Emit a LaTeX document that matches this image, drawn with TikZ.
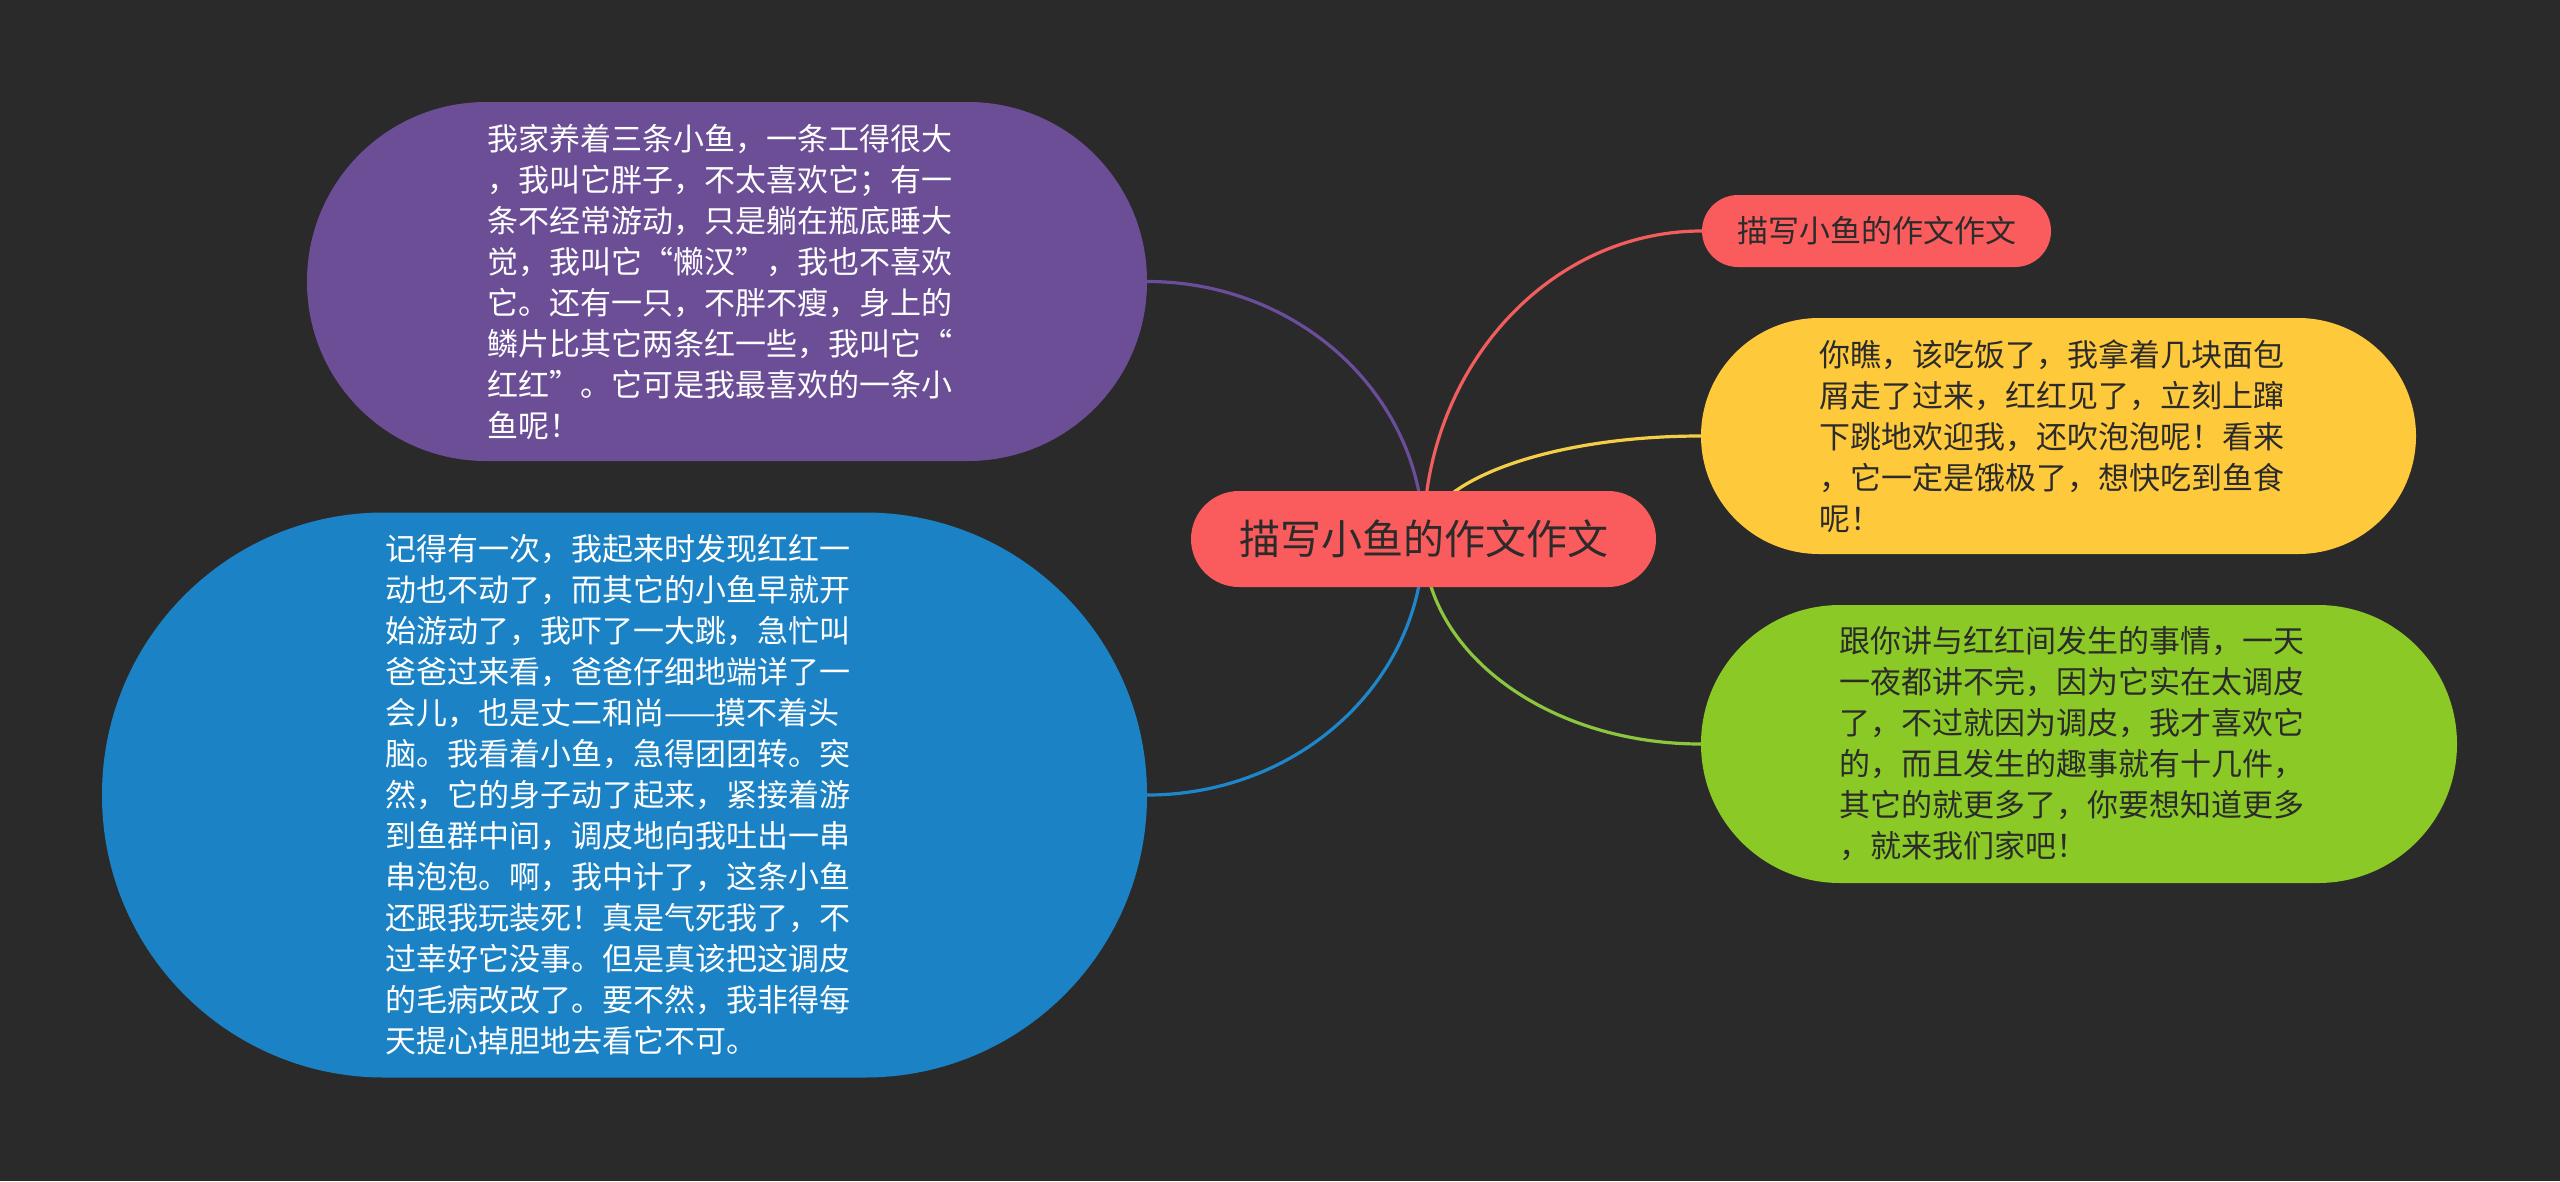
\documentclass[tikz,border=0pt]{standalone}
\usepackage{fontspec}
\newfontfamily\cjk{Noto Sans CJK SC}
\usetikzlibrary{calc}
\definecolor{bgc}{HTML}{2A2A2A}
\definecolor{purplefill}{HTML}{6B4E96}
\definecolor{bluefill}{HTML}{1B82C5}
\definecolor{yellowfill}{HTML}{FFC93C}
\definecolor{greenfill}{HTML}{8BC926}
\definecolor{redfill}{HTML}{FA5B5C}
\definecolor{purpleline}{HTML}{6B4E9B}
\definecolor{blueline}{HTML}{1E86CA}
\definecolor{yellowline}{HTML}{F5CE47}
\definecolor{greenline}{HTML}{8CC63F}
\definecolor{redline}{HTML}{F25D5D}
\definecolor{darktext}{HTML}{2B2B2B}
\pgfdeclarelayer{back}
\pgfdeclarelayer{edges}
\pgfsetlayers{back,edges,main}
\newcommand\mmedge[2]{\draw[edgeline,#1] (c.center) .. controls ($(c.center)!0.552!(c.center |- #2)$) and ($(#2)!0.552!(c.center |- #2)$) .. (#2);}
\begin{document}
\begin{tikzpicture}[x=1pt,y=-1pt,
  bigbox/.style={inner sep=0pt, align=left, text width=479pt,
    font=\cjk\fontsize{31}{41}\selectfont},
  pill/.style={inner sep=0pt, align=center},
  edgeline/.style={line width=3.2pt}]
\begin{pgfonlayer}{back}
\fill[bgc] (0,0) rectangle (2560,1181);
\end{pgfonlayer}
\useasboundingbox (0,0) rectangle (2560,1181);

\node[pill, fill=redfill, rounded corners=48pt, minimum width=465pt, minimum height=96pt,
  text=darktext, font=\cjk\fontsize{41}{48}\selectfont] (c) at (1423.5,539) {描写小鱼的作文作文};

\node[pill, fill=redfill, rounded corners=36pt, minimum width=349pt, minimum height=72pt,
  text=darktext, font=\cjk\fontsize{31}{38}\selectfont] (r) at (1876.5,231) {描写小鱼的作文作文};

\node[bigbox, fill=purplefill, rounded corners=179pt, minimum width=840pt, minimum height=359pt,
  text=white] (p) at (727,281.5) {我家养着三条小鱼，一条工得很大\\，我叫它胖子，不太喜欢它；有一\\条不经常游动，只是躺在瓶底睡大\\觉，我叫它“懒汉”，我也不喜欢\\它。还有一只，不胖不瘦，身上的\\鳞片比其它两条红一些，我叫它“\\红红”。它可是我最喜欢的一条小\\鱼呢！};

\node[bigbox, fill=bluefill, rounded corners=282pt, minimum width=1045pt, minimum height=565pt,
  text=white] (b) at (624.5,795) {记得有一次，我起来时发现红红一\\动也不动了，而其它的小鱼早就开\\始游动了，我吓了一大跳，急忙叫\\爸爸过来看，爸爸仔细地端详了一\\会儿，也是丈二和尚——摸不着头\\脑。我看着小鱼，急得团团转。突\\然，它的身子动了起来，紧接着游\\到鱼群中间，调皮地向我吐出一串\\串泡泡。啊，我中计了，这条小鱼\\还跟我玩装死！真是气死我了，不\\过幸好它没事。但是真该把这调皮\\的毛病改改了。要不然，我非得每\\天提心掉胆地去看它不可。};

\node[bigbox, fill=yellowfill, rounded corners=118pt, minimum width=715pt, minimum height=236pt,
  text=darktext] (y) at (2058.5,436) {你瞧，该吃饭了，我拿着几块面包\\屑走了过来，红红见了，立刻上蹿\\下跳地欢迎我，还吹泡泡呢！看来\\，它一定是饿极了，想快吃到鱼食\\呢！};

\node[bigbox, fill=greenfill, rounded corners=139pt, minimum width=756pt, minimum height=278pt,
  text=darktext] (g) at (2079,744) {跟你讲与红红间发生的事情，一天\\一夜都讲不完，因为它实在太调皮\\了，不过就因为调皮，我才喜欢它\\的，而且发生的趣事就有十几件，\\其它的就更多了，你要想知道更多\\，就来我们家吧！};

\begin{pgfonlayer}{edges}
\mmedge{purpleline}{p.east}
\mmedge{blueline}{b.east}
\mmedge{redline}{r.west}
\mmedge{yellowline}{y.west}
\mmedge{greenline}{g.west}
\end{pgfonlayer}
\end{tikzpicture}
\end{document}
